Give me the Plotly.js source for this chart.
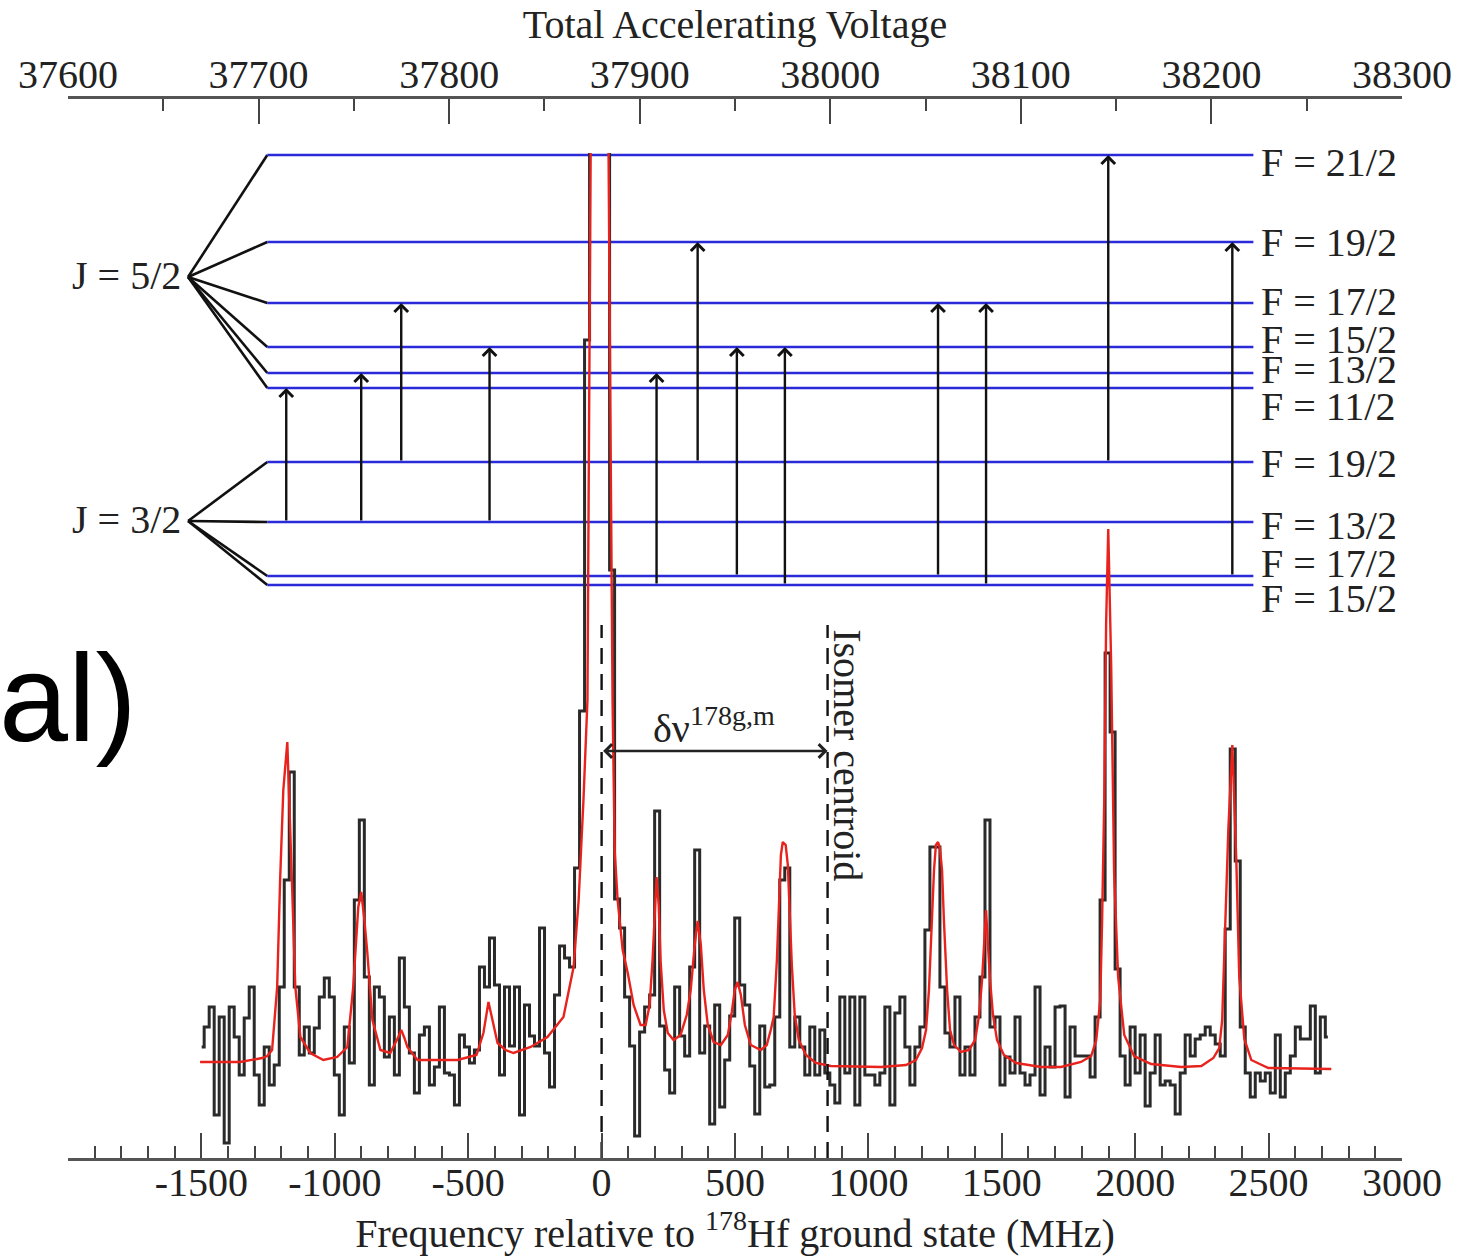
<!DOCTYPE html>
<html><head><meta charset="utf-8">
<script src="https://cdn.plot.ly/plotly-3.0.1.min.js"></script>
<style>html,body{margin:0;padding:0;background:#fff}</style>
</head><body><div id="chart" style="width:1474px;height:1256px"></div>
<script>
// ---------- DATA ----------
// Histogram of counts (arbitrary units), fixed-width frequency bins (MHz)
const histStart = -1499;
const histBin = 18.76;
const histCounts = [
 111,131,151,43,141,15,151,121,83,140,171,83,53,111,73,93,171,278,386,171,
 103,131,105,130,161,180,161,83,43,131,95,258,338,181,73,171,161,101,141,83,
 200,151,105,65,123,131,73,91,151,85,83,53,123,111,95,108,
 191,171,220,173,83,171,112,171,43,153,122,112,230,105,71,163,212,200,191,290,
 447,818,1100,1100,1100,1100,588,259,230,161,112,22,126,151,163,347,132,88,65,171,
 122,102,191,308,105,132,34,153,51,98,142,240,173,153,92,44,132,71,
 73,141,278,290,111,141,111,83,131,83,128,85,73,55,161,85,161,53,161,83,
 83,73,85,151,53,145,161,111,73,111,131,228,311,311,171,125,111,161,83,111,
 83,141,181,338,131,141,73,101,85,141,85,73,83,171,63,111,91,151,
 152,61,131,102,102,102,81,141,258,505,426,189,102,73,131,85,123,52,85,123,
 73,77,73,44,85,123,102,119,123,131,123,114,102,229,409,297,131,85,61,85,
 77,85,65,123,61,85,102,131,119,119,152,85,141,121
];
// Fitted curve
const fitFreq = [-1505,-1355,-1272,-1253,-1235,-1216,-1205,-1193,-1178,-1167,-1160,-1148,-1129,-1092,-1043,-991,-953,-931,-912,-901,
 -889,-878,-859,-829,-792,-762,-751,-739,-728,-690,-540,-469,-443,-424,-409,-390,-360,-330,-266,-203,
 -143,-105,-86,-68,-53,-45,-41,-8,26,34,41,49,60,79,98,120,146,165,180,191,
 199,206,214,221,233,248,270,296,319,334,349,360,372,383,398,420,447,473,488,499,
 510,522,537,559,597,619,634,645,657,664,672,679,690,698,705,713,724,739,766,803,
 859,1047,1141,1178,1201,1216,1227,1238,1246,1253,1261,1268,1276,1283,1295,1306,1321,1347,1377,1400,
 1415,1426,1433,1441,1448,1456,1467,1482,1508,1554,1647,1722,1797,1835,1854,1869,1876,1884,1891,1899,
 1910,1921,1936,1959,1996,2060,2173,2248,2293,2315,2326,2338,2349,2364,2379,2390,2409,2435,2499,2735];
const fitCounts = [96,96,100,102,108,171,278,368,416,338,271,171,121,105,98,101,111,171,251,266,
 238,205,138,108,105,121,128,120,111,98,98,103,125,156,138,115,108,105,111,121,
 141,191,258,358,458,758,1008,1458,1008,708,458,308,258,208,185,153,133,133,153,198,
 248,281,253,198,148,125,118,123,143,168,213,237,213,168,133,116,113,123,146,168,
 176,163,133,113,108,113,128,141,198,258,303,316,313,293,238,193,143,118,103,95,
 92,91,93,98,110,128,168,238,288,313,316,310,288,238,168,128,113,106,108,118,
 143,178,213,248,213,178,143,118,103,95,91,91,96,102,118,158,238,358,534,629,
 492,285,181,123,102,94,91,92,100,110,138,228,328,413,297,181,119,98,90,89];

// Level scheme (arbitrary energy units on the same vertical scale)
const upperLevels = [1003, 916, 855, 811, 785, 770];           // J = 5/2
const upperNames  = ['F = 21/2','F = 19/2','F = 17/2','F = 15/2','F = 13/2','F = 11/2'];
const lowerLevels = [696, 636, 582, 573];                      // J = 3/2
const lowerNames  = ['F = 19/2','F = 13/2','F = 17/2','F = 15/2'];
const jNames = ['J = 5/2', 'J = 3/2'];
const jLevels = [881, 637];
// Transitions: frequency (MHz), lower index -> upper index
const transFreq  = [-1182,-901,-751,-420,206,360,507,687,1261,1441,1899,2364];
const transLower = [1,1,0,1,3,0,2,3,2,3,0,2];
const transUpper = [5,4,2,3,4,1,3,3,2,2,0,1];
const isomerCentroid = 847;   // MHz
const groundCentroid = 0;     // MHz

const xTickVals = [-2000,-1500,-1000,-500,0,500,1000,1500,2000,2500,3000];
const xTickText = ['','-1500','-1000','-500','0','500','1000','1500','2000','2500','3000'];
const vTickVals = [37600,37700,37800,37900,38000,38100,38200,38300];
const vTickText = ['37600','37700','37800','37900','38000','38100','38200','38300'];

// ---------- STYLE / POSITIONS ----------
const serif = 'Liberation Serif, Times New Roman, serif';
const txt = '#222';
const blue = '#2a2ad8';
const levelX0 = -1253, levelX1 = 2443, fanX = -1550;
const upperLabelY = [996, 916, 857, 819, 789, 752];
const lowerLabelY = [695, 633, 595, 560];
const labelX = 2465;
const dashTop = 533;

const traces = [];
// fan lines
const fx = [], fy = [];
upperLevels.forEach(l => { fx.push(fanX, levelX0, null); fy.push(jLevels[0], l, null); });
lowerLevels.forEach(l => { fx.push(fanX, levelX0, null); fy.push(jLevels[1], l, null); });
traces.push({x: fx, y: fy, mode: 'lines', line: {color: '#111', width: 2.6}, hoverinfo: 'skip', showlegend: false});
// blue levels
const bx = [], by = [];
upperLevels.concat(lowerLevels).forEach(l => { bx.push(levelX0, levelX1, null); by.push(l, l, null); });
traces.push({x: bx, y: by, mode: 'lines', line: {color: blue, width: 2.6}, hoverinfo: 'skip', showlegend: false});
// histogram
traces.push({x0: histStart, dx: histBin, y: histCounts, mode: 'lines',
  line: {color: '#2a2a2a', width: 3, shape: 'hvh'}, name: 'data', showlegend: false});
// fit
traces.push({x: fitFreq, y: fitCounts, mode: 'lines', line: {color: '#e8231d', width: 2.4},
  name: 'fit', showlegend: false});
// dashed centroid lines
traces.push({x: [groundCentroid, groundCentroid, null, isomerCentroid, isomerCentroid],
  y: [0, dashTop, null, 0, dashTop], mode: 'lines',
  line: {color: '#111', width: 2.4, dash: '16px,10px'}, hoverinfo: 'skip', showlegend: false});
// dummy for top axis
traces.push({x: [vTickVals[0], vTickVals[vTickVals.length-1]], y: [0, 0], xaxis: 'x2', yaxis: 'y',
  mode: 'markers', marker: {opacity: 0}, hoverinfo: 'skip', showlegend: false});

const ann = [];
transFreq.forEach((f, i) => {
  ann.push({x: f, y: upperLevels[transUpper[i]], ax: f, ay: lowerLevels[transLower[i]],
    xref: 'x', yref: 'y', axref: 'x', ayref: 'y', text: '', showarrow: true,
    arrowhead: 4, arrowsize: 1.1, arrowwidth: 2.4, arrowcolor: '#111', standoff: 0, startstandoff: 0});
});
upperNames.forEach((n, i) => ann.push({x: labelX, y: upperLabelY[i], xref: 'x', yref: 'y', text: n,
  showarrow: false, xanchor: 'left', yanchor: 'middle', font: {family: serif, size: 40, color: txt}}));
lowerNames.forEach((n, i) => ann.push({x: labelX, y: lowerLabelY[i], xref: 'x', yref: 'y', text: n,
  showarrow: false, xanchor: 'left', yanchor: 'middle', font: {family: serif, size: 40, color: txt}}));
jNames.forEach((n, i) => ann.push({x: -1568, y: jLevels[i] + 2, xref: 'x', yref: 'y', text: n,
  showarrow: false, xanchor: 'right', yanchor: 'middle', font: {family: serif, size: 40, color: txt}}));
// delta nu double arrow
ann.push({x: isomerCentroid, y: 407, ax: groundCentroid, ay: 407, xref: 'x', yref: 'y', axref: 'x', ayref: 'y',
  text: '', showarrow: true, arrowhead: 4, startarrowhead: 4, arrowside: 'end+start', arrowsize: 1.1,
  startarrowsize: 1.1, arrowwidth: 2.4, arrowcolor: '#222', standoff: 0, startstandoff: 0});
ann.push({x: 184, y: 433, xref: 'x', yref: 'y', text: 'δν<sup>178g,m</sup>', showarrow: false,
  xanchor: 'left', yanchor: 'middle', font: {family: serif, size: 40, color: txt}});
ann.push({x: 923, y: 403, xref: 'x', yref: 'y', text: 'Isomer centroid', textangle: 90, showarrow: false,
  xanchor: 'center', yanchor: 'middle', font: {family: serif, size: 40, color: txt}});
// fragment of slide text at left
ann.push({x: -0.053, y: 0.434, xref: 'paper', yref: 'paper', text: 'al)', showarrow: false,
  xanchor: 'left', yanchor: 'middle', font: {family: 'Liberation Sans, Arial, sans-serif', size: 124, color: '#000'}});

const layout = {
  width: 1474, height: 1256,
  margin: {l: 68, r: 72, t: 97, b: 98},
  paper_bgcolor: '#fff', plot_bgcolor: 'rgba(0,0,0,0)',
  showlegend: false,
  xaxis: {range: [-2000, 3000], anchor: 'y', side: 'bottom', showgrid: false, zeroline: false,
    showline: true, linecolor: '#555', linewidth: 2.5,
    tickmode: 'array', tickvals: xTickVals, ticktext: xTickText,
    ticks: 'inside', ticklen: 25, tickwidth: 2, tickcolor: '#444',
    minor: {dtick: 100, tick0: 0, ticks: 'inside', ticklen: 12, tickwidth: 2, tickcolor: '#444', showgrid: false},
    tickfont: {family: serif, size: 40, color: txt}, ticklabelstandoff: -13,
    title: {text: 'Frequency relative to <sup>178</sup>Hf ground state (MHz)', font: {family: serif, size: 40, color: txt}, standoff: 21}},
  xaxis2: {range: [37600, 38300], overlaying: 'x', anchor: 'free', position: 1, side: 'top',
    showgrid: false, zeroline: false, showline: true, linecolor: '#555', linewidth: 2.5,
    tickmode: 'array', tickvals: vTickVals, ticktext: vTickText,
    ticks: 'inside', ticklen: 25, tickwidth: 2, tickcolor: '#444',
    minor: {dtick: 50, tick0: 37600, ticks: 'inside', ticklen: 12, tickwidth: 2, tickcolor: '#444', showgrid: false},
    tickfont: {family: serif, size: 40, color: txt}, ticklabelstandoff: -8,
    title: {text: 'Total Accelerating Voltage', font: {family: serif, size: 40, color: txt}, standoff: 0}},
  yaxis: {range: [0, 1005], domain: [0, 0.9472], visible: false, fixedrange: true},
  annotations: ann
};
Plotly.newPlot('chart', traces, layout, {displayModeBar: false, staticPlot: true});
</script>
</body></html>
